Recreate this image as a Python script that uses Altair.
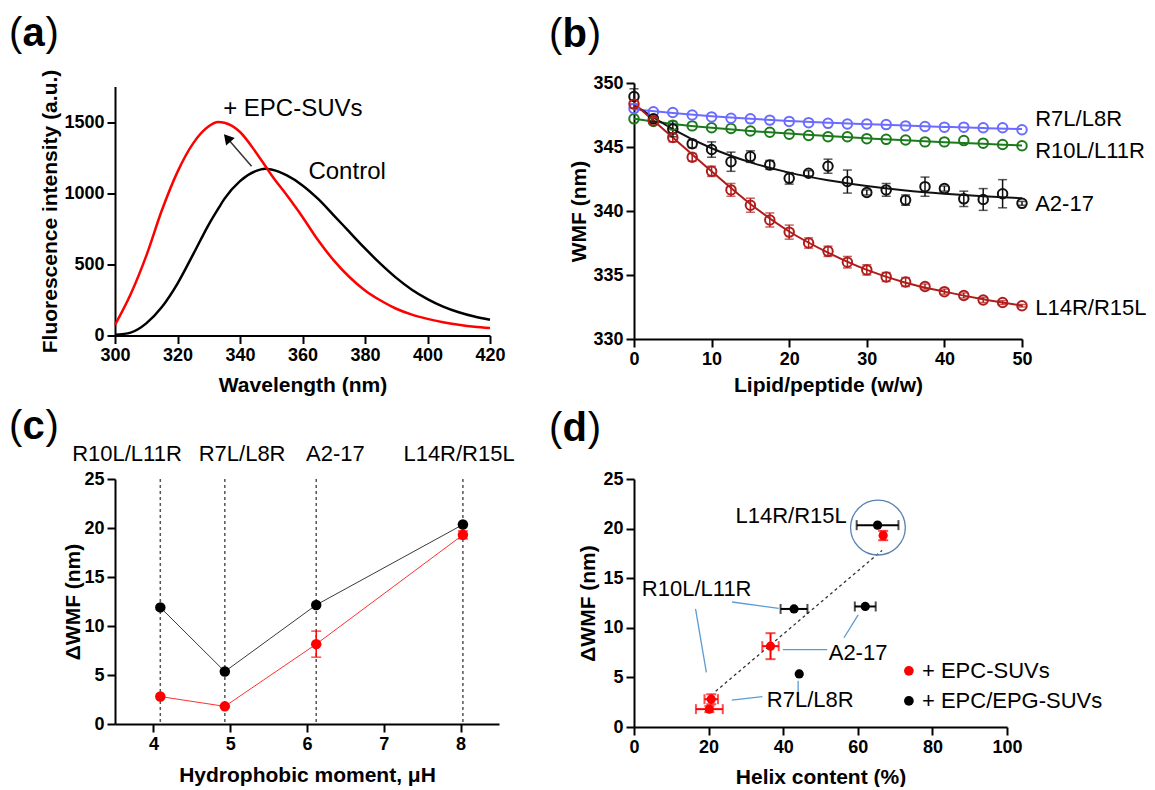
import altair as alt
import pandas as pd

SANS = "Liberation Sans, Arial, Helvetica, sans-serif"

# ---------------- (a) Trp fluorescence spectra ----------------
wavelength = [300, 305, 310, 315, 320, 325, 330, 333, 335, 340, 345, 348, 350,
              355, 360, 365, 370, 375, 380, 385, 390, 395, 400, 405, 410, 415, 420]
control_intensity = [5, 20, 85, 200, 365, 570, 780, 890, 960, 1085, 1155, 1172, 1166,
                     1125, 1055, 960, 845, 728, 612, 503, 405, 322, 256, 203, 163, 133, 110]
epc_intensity = [75, 290, 560, 880, 1150, 1350, 1470, 1500, 1495, 1430, 1290, 1195, 1130,
                 985, 833, 669, 528, 411, 317, 246, 188, 147, 117, 93, 75, 61, 52]
a_note_text = ["+ EPC-SUVs", "Control"]
a_note_x = [334.6, 361.9]
a_note_y = [1591, 1148]
arrow_wl = [343.7, 336.5]
arrow_int = [1190, 1373]
arrowhead_wl = [335.9]
arrowhead_int = [1388]

# ---------------- (b) WMF titration ----------------
lipid_ratio = [0, 2.5, 5, 7.5, 10, 12.5, 15, 17.5, 20, 22.5, 25,
               27.5, 30, 32.5, 35, 37.5, 40, 42.5, 45, 47.5, 50]
wmf_r7l = [348.0, 347.75, 347.7, 347.5, 347.35, 347.25, 347.2, 347.1, 347.0, 346.9, 346.85,
           346.8, 346.8, 346.75, 346.65, 346.6, 346.55, 346.55, 346.5, 346.5, 346.35]
wmf_r10l = [347.2, 347.0, 346.7, 346.65, 346.5, 346.45, 346.25, 346.15, 346.0, 345.9, 345.8,
            345.8, 345.65, 345.6, 345.55, 345.4, 345.4, 345.5, 345.3, 345.2, 345.1]
wmf_a217 = [348.95, 347.2, 346.4, 345.25, 344.8, 343.85, 344.25, 343.6, 342.55, 342.95, 343.5,
            342.3, 341.45, 341.65, 340.85, 341.9, 341.75, 340.95, 340.9, 341.35, 340.6]
wmf_a217_err = [0.6, 0.2, 0.6, 0.3, 0.6, 0.75, 0.45, 0.35, 0.45, 0.2, 0.55,
                0.9, 0.2, 0.5, 0.4, 0.75, 0.2, 0.6, 0.85, 1.1, 0.15]
wmf_l14r = [348.35, 347.05, 345.75, 344.2, 343.1, 341.65, 340.45, 339.3, 338.35, 337.5, 336.85,
            336.0, 335.4, 334.85, 334.45, 334.1, 333.7, 333.4, 333.05, 332.85, 332.6]
wmf_l14r_err = [0.3, 0.2, 0.35, 0.3, 0.4, 0.5, 0.55, 0.55, 0.55, 0.4, 0.4,
                0.45, 0.4, 0.35, 0.35, 0.2, 0.2, 0.2, 0.2, 0.15, 0.1]
fit_ratio = [0, 5, 10, 15, 20, 25, 30, 35, 40, 45, 50]
fit_r7l = [347.95, 347.65, 347.4, 347.2, 347.03, 346.9, 346.78, 346.67, 346.57, 346.48, 346.4]
fit_r10l = [347.2, 346.8, 346.5, 346.25, 346.05, 345.85, 345.68, 345.52, 345.38, 345.25, 345.12]
fit_a217 = [348.3, 346.4, 344.9, 343.8, 343.0, 342.4, 341.95, 341.6, 341.35, 341.15, 341.0]
fit_l14r = [348.4, 345.75, 343.1, 340.55, 338.4, 336.75, 335.4, 334.4, 333.7, 333.1, 332.6]
b_names = ["R7L/L8R", "R10L/L11R", "A2-17", "L14R/R15L"]
b_colors = ["#6b6bff", "#1c7a1c", "#111111", "#b01c1c"]
b_label_x = [51.7, 51.7, 51.7, 51.7]
b_label_y = [347.2, 344.7, 340.55, 332.45]

# ---------------- (c) dWMF vs hydrophobic moment ----------------
mu_h = [4.09, 4.93, 6.12, 8.03]
c_names = ["R10L/L11R", "R7L/L8R", "A2-17", "L14R/R15L"]
c_label_x = [3.656, 5.155, 6.37, 7.98]
dwmf_epg = [11.9, 5.35, 12.15, 20.35]
dwmf_epc = [2.8, 1.8, 8.15, 19.3]
dwmf_epc_err = [0.0, 0.0, 1.33, 0.4]

# ---------------- (d) dWMF vs helix content ----------------
d_names = ["L14R/R15L", "A2-17", "R10L/L11R", "R7L/L8R"]
epc_helix = [66.8, 36.6, 20.7, 20.2]
epc_helix_err = [0.5, 2.2, 1.8, 3.6]
epc_dwmf = [19.3, 8.15, 2.8, 1.8]
epc_dwmf_err = [0.47, 1.31, 0.5, 0.3]
epg_helix = [65.3, 62.0, 42.9, 44.3]
epg_helix_err = [5.6, 2.8, 3.6, 0.0]
epg_dwmf = [20.35, 12.15, 11.9, 5.35]
trend_x = [21.9, 66.5]
trend_y = [3.6, 17.8]
leader_x1 = [26.3, 16.5, 39.9, 56.3, 26.2, 44.0]
leader_y1 = [12.6, 11.9, 7.8, 9.0, 2.7, 4.65]
leader_x2 = [38.8, 19.4, 51.8, 60.1, 34.4, 44.0]
leader_y2 = [11.95, 5.5, 7.8, 11.3, 3.06, 3.2]
d_label_text = ["L14R/R15L", "R10L/L11R", "A2-17", "R7L/L8R"]
d_label_x = [27.2, 2.1, 52.2, 35.6]
d_label_y = [21.3, 13.9, 7.5, 2.7]
circle_x = [65.4]
circle_y = [20.1]
legend_text = ["+ EPC-SUVs", "+ EPC/EPG-SUVs"]
legend_colors = ["#ff0000", "#000000"]
legend_x = [73.7, 73.7]
legend_text_x = [77.2, 77.2]
legend_y = [5.66, 2.63]

NOSCALE = alt.Color("c:N", scale=None)


def panel_label(letter, x0, y0):
    widths = {"a": 22.2, "b": 24.4, "c": 22.2, "d": 24.4}
    parts = [("(", "normal", 0.0), (letter, "bold", 13.6),
             (")", "normal", 13.6 + widths[letter] + 0.8)]
    out = []
    for t, w, dx in parts:
        out.append(
            alt.Chart(pd.DataFrame({"t": [t]}))
            .mark_text(font=SANS, fontSize=40, fontWeight=w, align="left",
                       baseline="alphabetic", color="black")
            .encode(x=alt.value(x0 + dx), y=alt.value(y0), text="t:N")
        )
    return out


def ax(values, title, tx, ty):
    return alt.Axis(values=values, title=title, titleX=tx, titleY=ty, format="d")


# ================= panel (a) =================
W_A, H_A = 375, 249
XA = alt.X("x:Q", scale=alt.Scale(domain=[300, 420], nice=False, zero=False),
           axis=ax([300, 320, 340, 360, 380, 400, 420], "Wavelength (nm)", W_A / 2, 50))
YA = alt.Y("y:Q", scale=alt.Scale(domain=[0, 1750], nice=False),
           axis=ax([0, 500, 1000, 1500], "Fluorescence intensity (a.u.)", -65, H_A / 2))

n = len(wavelength)
df_a = pd.DataFrame({"x": wavelength * 2, "y": control_intensity + epc_intensity,
                     "s": ["Control"] * n + ["EPC"] * n,
                     "c": ["#000000"] * n + ["#ff0000"] * n})
a_lines = alt.Chart(df_a).mark_line(strokeWidth=2.5, interpolate="monotone").encode(
    x=XA, y=YA, color=NOSCALE, detail="s:N")
a_arrow = alt.Chart(pd.DataFrame({"x": arrow_wl, "y": arrow_int})).mark_line(
    color="#333333", strokeWidth=1.5).encode(x=XA, y=YA)
a_head = alt.Chart(pd.DataFrame({"x": arrowhead_wl, "y": arrowhead_int})).mark_point(
    shape="triangle-up", filled=True, size=130, angle=319, color="#000000", opacity=1).encode(x=XA, y=YA)
a_notes = alt.Chart(pd.DataFrame({"x": a_note_x, "y": a_note_y, "t": a_note_text})).mark_text(
    font=SANS, fontSize=24, align="left", baseline="middle", color="black").encode(x=XA, y=YA, text="t:N")
panel_a = alt.layer(a_lines, a_arrow, a_head, a_notes, *panel_label("a", -106, -41)).properties(
    width=W_A, height=H_A)

# ================= panel (b) =================
W_B, H_B = 388, 256
XB = alt.X("x:Q", scale=alt.Scale(domain=[0, 50], nice=False),
           axis=ax([0, 10, 20, 30, 40, 50], "Lipid/peptide (w/w)", W_B / 2, 46))
YB = alt.Y("y:Q", scale=alt.Scale(domain=[330, 350], nice=False, zero=False),
           axis=ax([330, 335, 340, 345, 350], "WMF (nm)", -55, H_B / 2))

pts_b, fit_b = [], []
order = [(1, wmf_r10l, None, fit_r10l), (0, wmf_r7l, None, fit_r7l),
         (2, wmf_a217, wmf_a217_err, fit_a217), (3, wmf_l14r, wmf_l14r_err, fit_l14r)]
for idx, vals, errs, fit in order:
    name, col = b_names[idx], b_colors[idx]
    for i, (xv, yv) in enumerate(zip(lipid_ratio, vals)):
        e = errs[i] if errs else 0.0
        pts_b.append({"x": xv, "y": yv, "lo": yv - e, "hi": yv + e, "e": e, "s": name, "c": col})
    for xv, yv in zip(fit_ratio, fit):
        fit_b.append({"x": xv, "y": yv, "s": name, "c": col})
df_pts_b = pd.DataFrame(pts_b)
df_err_b = df_pts_b[df_pts_b["e"] > 0].copy()
df_fit_b = pd.DataFrame(fit_b)
df_lo_b = pd.DataFrame({"x": df_err_b["x"], "y": df_err_b["lo"], "c": df_err_b["c"]})
df_hi_b = pd.DataFrame({"x": df_err_b["x"], "y": df_err_b["hi"], "c": df_err_b["c"]})
df_rule_b = pd.DataFrame({"x": df_err_b["x"], "y": df_err_b["lo"], "y2": df_err_b["hi"],
                          "c": df_err_b["c"]})

b_fit = alt.Chart(df_fit_b).mark_line(strokeWidth=2, interpolate="monotone").encode(
    x=XB, y=YB, color=NOSCALE, detail="s:N")
b_rule = alt.Chart(df_rule_b).mark_rule(strokeWidth=1.5).encode(x=XB, y=YB, y2="y2:Q", color=NOSCALE)
b_cap_lo = alt.Chart(df_lo_b).mark_tick(orient="horizontal", size=9, thickness=1.5).encode(
    x=XB, y=YB, color=NOSCALE)
b_cap_hi = alt.Chart(df_hi_b).mark_tick(orient="horizontal", size=9, thickness=1.5).encode(
    x=XB, y=YB, color=NOSCALE)
b_pts = alt.Chart(df_pts_b).mark_point(shape="circle", filled=False, size=90, strokeWidth=2,
                                      opacity=1).encode(x=XB, y=YB, stroke=alt.Stroke("c:N", scale=None))
b_labels = alt.Chart(pd.DataFrame({"x": b_label_x, "y": b_label_y, "t": b_names})).mark_text(
    font=SANS, fontSize=22, align="left", baseline="middle", color="black").encode(
    x=XB, y=YB, text="t:N")
panel_b = alt.layer(b_fit, b_rule, b_cap_lo, b_cap_hi, b_pts, b_labels,
                    *panel_label("b", -85, -36)).properties(width=W_B, height=H_B)

# ================= panel (c) =================
W_C, H_C = 384, 245
XC = alt.X("x:Q", scale=alt.Scale(domain=[3.5, 8.5], nice=False, zero=False),
           axis=ax([4, 5, 6, 7, 8], "Hydrophobic moment, \u03bcH", W_C / 2, 51))
YC = alt.Y("y:Q", scale=alt.Scale(domain=[0, 25], nice=False),
           axis=ax([0, 5, 10, 15, 20, 25], "\u0394WMF (nm)", -42, H_C / 2))
c_vlines = alt.Chart(pd.DataFrame({"x": mu_h})).mark_rule(
    color="#555555", strokeWidth=1.5, strokeDash=[3, 3]).encode(
    x=XC, y=alt.value(0), y2=alt.value(H_C))
df_c_epg = pd.DataFrame({"x": mu_h, "y": dwmf_epg})
df_c_epc = pd.DataFrame({"x": mu_h, "y": dwmf_epc})
c_line_epg = alt.Chart(df_c_epg).mark_line(color="#3a3a3a", strokeWidth=1).encode(x=XC, y=YC)
c_line_epc = alt.Chart(df_c_epc).mark_line(color="#ff3030", strokeWidth=1).encode(x=XC, y=YC)
errc = [(x, y, e) for x, y, e in zip(mu_h, dwmf_epc, dwmf_epc_err) if e > 0]
df_c_rule = pd.DataFrame({"x": [r[0] for r in errc], "y": [r[1] - r[2] for r in errc],
                          "y2": [r[1] + r[2] for r in errc]})
df_c_lo = pd.DataFrame({"x": [r[0] for r in errc], "y": [r[1] - r[2] for r in errc]})
df_c_hi = pd.DataFrame({"x": [r[0] for r in errc], "y": [r[1] + r[2] for r in errc]})
c_rule = alt.Chart(df_c_rule).mark_rule(color="#ff0000", strokeWidth=1.5).encode(x=XC, y=YC, y2="y2:Q")
c_cap_lo = alt.Chart(df_c_lo).mark_tick(orient="horizontal", size=10, thickness=1.5,
                                        color="#ff0000").encode(x=XC, y=YC)
c_cap_hi = alt.Chart(df_c_hi).mark_tick(orient="horizontal", size=10, thickness=1.5,
                                        color="#ff0000").encode(x=XC, y=YC)
c_pts_epg = alt.Chart(df_c_epg).mark_point(shape="circle", filled=True, size=110, color="#000000",
                                          opacity=1).encode(x=XC, y=YC)
c_pts_epc = alt.Chart(df_c_epc).mark_point(shape="circle", filled=True, size=110, color="#ff0000",
                                          opacity=1).encode(x=XC, y=YC)
c_labels = alt.Chart(pd.DataFrame({"x": c_label_x, "t": c_names})).mark_text(
    font=SANS, fontSize=22, align="center", baseline="alphabetic", color="black").encode(
    x=XC, y=alt.value(-18), text="t:N")
panel_c = alt.layer(c_vlines, c_line_epg, c_line_epc, c_rule, c_cap_lo, c_cap_hi,
                    c_pts_epg, c_pts_epc, c_labels,
                    *panel_label("c", -106, -40)).properties(width=W_C, height=H_C)

# ================= panel (d) =================
W_D, H_D = 373, 248
XD = alt.X("x:Q", scale=alt.Scale(domain=[0, 100], nice=False),
           axis=ax([0, 20, 40, 60, 80, 100], "Helix content (%)", W_D / 2, 50))
YD = alt.Y("y:Q", scale=alt.Scale(domain=[0, 25], nice=False),
           axis=ax([0, 5, 10, 15, 20, 25], "\u0394WMF (nm)", -46, H_D / 2))

d_trend = alt.Chart(pd.DataFrame({"x": trend_x, "y": trend_y})).mark_line(
    color="#333333", strokeWidth=1.3, strokeDash=[3, 3]).encode(x=XD, y=YD)
d_leaders = alt.Chart(pd.DataFrame({"x": leader_x1, "y": leader_y1, "x2": leader_x2,
                                    "y2": leader_y2})).mark_rule(
    color="#5b9bd5", strokeWidth=1.3).encode(x=XD, y=YD, x2="x2:Q", y2="y2:Q")
d_circle = alt.Chart(pd.DataFrame({"x": circle_x, "y": circle_y})).mark_point(
    shape="circle", filled=False, size=3000, strokeWidth=1.3, color="#5a82b0", opacity=1).encode(
    x=XD, y=YD)

err_rows_h, err_rows_v = [], []
for xs, xe, ys, ye, col in [(epg_helix, epg_helix_err, epg_dwmf, [0] * 4, "#000000"),
                            (epc_helix, epc_helix_err, epc_dwmf, epc_dwmf_err, "#ff0000")]:
    for x, dx, y, dy in zip(xs, xe, ys, ye):
        if dx > 0:
            err_rows_h.append({"x": x - dx, "x2": x + dx, "y": y, "c": col})
        if dy > 0:
            err_rows_v.append({"x": x, "y": y - dy, "y2": y + dy, "c": col})
df_h = pd.DataFrame(err_rows_h)
df_v = pd.DataFrame(err_rows_v)
d_hrule = alt.Chart(df_h).mark_rule(strokeWidth=2).encode(x=XD, x2="x2:Q", y=YD, color=NOSCALE)
d_hcap1 = alt.Chart(pd.DataFrame({"x": df_h["x"], "y": df_h["y"], "c": df_h["c"]})).mark_tick(
    orient="vertical", size=10, thickness=2).encode(x=XD, y=YD, color=NOSCALE)
d_hcap2 = alt.Chart(pd.DataFrame({"x": df_h["x2"], "y": df_h["y"], "c": df_h["c"]})).mark_tick(
    orient="vertical", size=10, thickness=2).encode(x=XD, y=YD, color=NOSCALE)
d_vrule = alt.Chart(df_v).mark_rule(strokeWidth=2).encode(x=XD, y=YD, y2="y2:Q", color=NOSCALE)
d_vcap1 = alt.Chart(pd.DataFrame({"x": df_v["x"], "y": df_v["y"], "c": df_v["c"]})).mark_tick(
    orient="horizontal", size=10, thickness=2).encode(x=XD, y=YD, color=NOSCALE)
d_vcap2 = alt.Chart(pd.DataFrame({"x": df_v["x"], "y": df_v["y2"], "c": df_v["c"]})).mark_tick(
    orient="horizontal", size=10, thickness=2).encode(x=XD, y=YD, color=NOSCALE)
d_pts_epg = alt.Chart(pd.DataFrame({"x": epg_helix, "y": epg_dwmf})).mark_point(
    shape="circle", filled=True, size=85, color="#000000", opacity=1).encode(x=XD, y=YD)
d_pts_epc = alt.Chart(pd.DataFrame({"x": epc_helix, "y": epc_dwmf})).mark_point(
    shape="circle", filled=True, size=85, color="#ff0000", opacity=1).encode(x=XD, y=YD)
d_labels = alt.Chart(pd.DataFrame({"x": d_label_x, "y": d_label_y, "t": d_label_text})).mark_text(
    font=SANS, fontSize=22, align="left", baseline="middle", color="black").encode(
    x=XD, y=YD, text="t:N")
d_leg_pts = alt.Chart(pd.DataFrame({"x": legend_x, "y": legend_y, "c": legend_colors})).mark_point(
    shape="circle", filled=True, size=95, opacity=1).encode(x=XD, y=YD, color=NOSCALE)
d_leg_txt = alt.Chart(pd.DataFrame({"x": legend_text_x, "y": legend_y, "t": legend_text})).mark_text(
    font=SANS, fontSize=22, align="left", baseline="middle", color="black").encode(
    x=XD, y=YD, text="t:N")
panel_d = alt.layer(d_trend, d_leaders, d_circle, d_hrule, d_hcap1, d_hcap2, d_vrule,
                    d_vcap1, d_vcap2, d_pts_epg, d_pts_epc, d_labels, d_leg_pts, d_leg_txt,
                    *panel_label("d", -85, -38)).properties(width=W_D, height=H_D)

chart = alt.concat(
    panel_a, panel_b, panel_c, panel_d, columns=2,
    spacing={"row": 140, "column": 135}, bounds="flush", align="each",
    center={"row": True, "column": False},
).properties(
    padding={"left": 1, "top": 5, "right": 0, "bottom": 0}
).resolve_scale(color="independent", stroke="independent").configure_axis(
    grid=False, domainColor="black", domainWidth=2, tickColor="black", tickWidth=2, tickSize=8,
    labelFont=SANS, labelFontSize=18, labelFontWeight="bold", labelColor="black",
    labelPadding=3, labelFlush=False, labelOverlap=False,
    titleFont=SANS, titleFontSize=21, titleFontWeight="bold", titleColor="black",
    titleBaseline="middle", titleAlign="center",
).configure_view(stroke=None)

chart.save("out.html", embed_options={"renderer": "svg", "actions": False})
